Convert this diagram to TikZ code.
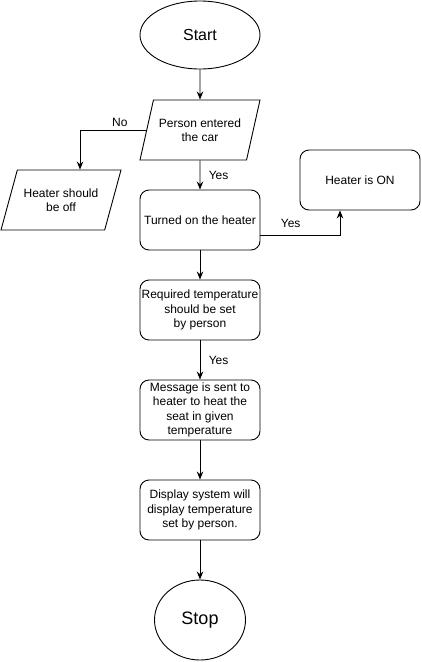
\documentclass[tikz,border=0pt]{standalone}
\usepackage{fontspec}
\setmainfont{Liberation Sans}
\usetikzlibrary{positioning, shapes.geometric, arrows.meta}

\tikzset{
    term/.style={ellipse, draw, inner sep=0pt},
    io/.style={trapezium, draw, trapezium stretches body, minimum height=60pt, inner sep=0pt, align=center},
    proc/.style={rectangle, draw, rounded corners=9pt, minimum width=120pt, minimum height=60pt, inner sep=0pt, align=center},
}

\begin{document}
\begin{tikzpicture}[x=1pt, y=-1pt, line width=0.9pt, >={Stealth[length=8pt,width=6.5pt]}, font=\fontsize{12}{14.5}\selectfont]
        \useasboundingbox (0,0) rectangle (422,662); % page size

        % Draw the steps of the flowchart
        \node[term, minimum width=120pt, minimum height=68pt, font=\fontsize{16}{19}\selectfont] (start) at (200,35) {Start};
        \node[io, trapezium left angle=60, trapezium right angle=120, minimum width=120pt] (entered) at (200,130) {Person entered\\the car};
        \node[io, trapezium left angle=55, trapezium right angle=125, minimum width=120pt] (off) at (61,200) {Heater should\\be off};
        \node[proc] (turned) at (200,220) {Turned on the heater};
        \node[proc] (on) at (360,180) {Heater is ON};
        \node[proc] (required) at (200,310) {Required temperature\\should be set\\by person};
        \node[proc] (message) at (200,410) {Message is sent to\\heater to heat the\\seat in given\\temperature};
        \node[proc] (display) at (200,510) {Display system will\\display temperature\\set by person.};
        \node[term, minimum width=91pt, minimum height=80pt, font=\fontsize{18}{21}\selectfont] (stop) at (200,620) {Stop};

        % Draw the connectors
        \draw[->] (start.south) -- (entered.north);
        \draw[->] (entered.west) -| ([xshift=19pt]off.north) node[pos=0.2, above] {No}; % no person in the car
        \draw[->] (entered.south) -- (turned.north) node[midway, right=5pt] {Yes};
        \draw[->] ([yshift=-15pt]turned.east) -| ([xshift=-20pt]on.south) node[pos=0.19, above=4pt] {Yes}; % heater switched on
        \draw[->] (turned.south) -- (required.north);
        \draw[->] (required.south) -- (message.north) node[midway, right=5pt] {Yes};
        \draw[->] (message.south) -- (display.north);
        \draw[->] (display.south) -- (stop.north);
    \end{tikzpicture}
\end{document}
